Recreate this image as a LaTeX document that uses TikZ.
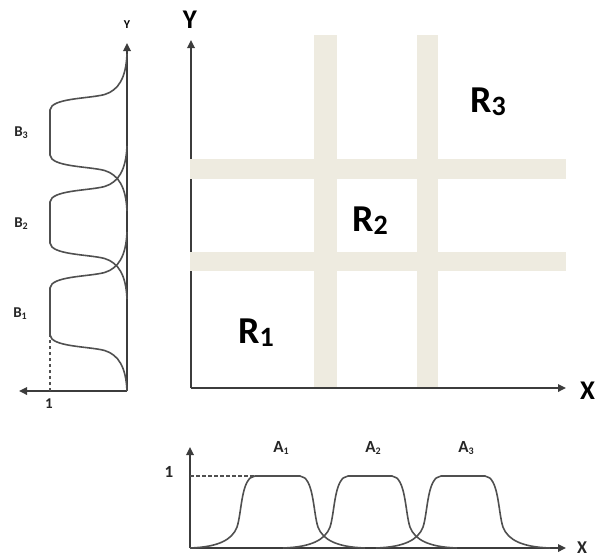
\documentclass[tikz,border=0pt]{standalone}
\usepackage{fontspec}
\setmainfont{Carlito}
\usetikzlibrary{arrows.meta}
\definecolor{bandc}{RGB}{238,235,224}
\definecolor{axisgray}{RGB}{60,60,60}
\definecolor{curvegray}{RGB}{80,80,80}
\newcommand\mfcurve[3]{%
  \draw[mfline] (#1,0) .. controls ({#1+0.43*#3},0.014) and ({#1+0.646*#3},0.11) .. ({#1+0.723*#3},0.29)
   .. controls ({#1+0.8*#3},0.5) and ({#1+0.785*#3},0.986) .. ({#1+#3},1) -- (#2,1)
   .. controls ({#2+0.215*#3},0.986) and ({#2+0.2*#3},0.5) .. ({#2+0.277*#3},0.29)
   .. controls ({#2+0.354*#3},0.11) and ({#2+0.57*#3},0.014) .. ({#2+#3},0);}
\newcommand\bigsub[2]{#1\raisebox{-0.1em}{\fontsize{28}{28}\selectfont #2}}
\newcommand\smallsub[2]{#1\raisebox{-0.12em}{\fontsize{10}{10}\selectfont #2}}
\begin{document}
\begin{tikzpicture}[x=1pt,y=-1pt,
  axisline/.style={draw=axisgray, line width=1.7pt},
  arrowaxis/.style={axisline, -{Triangle[length=8pt,width=7.5pt]}},
  mfline/.style={draw=curvegray, line width=1.6pt},
  dashline/.style={draw=curvegray, line width=1.4pt, dash pattern=on 3.5pt off 2.5pt},
  bandfill/.style={fill=bandc, draw=none},
  biglab/.style={font=\fontsize{38}{38}\selectfont\bfseries, inner sep=0pt},
  axlab/.style={font=\fontsize{27}{27}\selectfont\bfseries, inner sep=0pt},
  smalllab/.style={font=\fontsize{15}{15}\selectfont\bfseries, inner sep=0pt, text=black!85},
  alab/.style={font=\fontsize{17}{17}\selectfont\bfseries, inner sep=0pt, text=black!85},
  tinylab/.style={font=\fontsize{12}{12}\selectfont\bfseries, inner sep=0pt}]
\useasboundingbox (0,0) rectangle (597,558);

% ---------- main plot ----------
\coordinate (O) at (191,388);
\coordinate (Ytip) at (191,40);
\coordinate (Xtip) at (566,388);
\draw[arrowaxis] (O) -- (Ytip);
\fill[bandfill] (314,35) rectangle (337,388);
\fill[bandfill] (417,35) rectangle (438,388);
\fill[bandfill] (190,159) rectangle (566,179);
\fill[bandfill] (190,252) rectangle (566,271);
\draw[arrowaxis] (O) -- (Xtip);
\node[axlab, anchor=base] (Ylab) at (190,28) {Y};
\node[axlab, anchor=base west] (Xlab) at (580,399) {X};
\node[biglab, anchor=base west] (R1) at (238,343) {\bigsub{R}{1}};
\node[biglab, anchor=base west] (R2) at (352,231) {\bigsub{R}{2}};
\node[biglab, anchor=base west] (R3) at (470,112) {\bigsub{R}{3}};

% ---------- left plot (B) ----------
\coordinate (BO) at (127,391);
\coordinate (BYtip) at (127,43);
\coordinate (BXtip) at (19,391);
\coordinate (Bone) at (50,391);
\coordinate (Bonetop) at (50,335);
\draw[arrowaxis] (BO) -- (BYtip);
\draw[arrowaxis] (BO) -- (BXtip);
\draw[dashline] (Bone) -- (Bonetop);
\begin{scope}[shift={(127,391)}, x={(0pt,1pt)}, y={(-77pt,0pt)}]
  \mfcurve{0}{103}{56}
  \mfcurve{92}{189}{56}
  \mfcurve{180}{281}{56}
\end{scope}
\node[tinylab] (BYlab) at (127,25) {Y};
\node[smalllab] (B3) at (21,133) {\smallsub{B}{3}};
\node[smalllab] (B2) at (21,224) {\smallsub{B}{2}};
\node[smalllab] (B1) at (20,314) {\smallsub{B}{1}};
\node[smalllab] (Bonelab) at (49,404) {1};

% ---------- bottom plot (A) ----------
\coordinate (AO) at (190,548);
\coordinate (AYtip) at (190,447);
\coordinate (AXtip) at (566,548);
\coordinate (Aone) at (190,476);
\coordinate (Aoneend) at (254,476);
\draw[arrowaxis] (AO) -- (AYtip);
\draw[arrowaxis] (AO) -- (AXtip);
\draw[dashline] (Aone) -- (Aoneend);
\begin{scope}[shift={(190,548)}, x={(1pt,0pt)}, y={(0pt,72pt)}]
  \mfcurve{0}{110}{65}
  \mfcurve{93}{202}{65}
  \mfcurve{186}{295}{65}
\end{scope}
\node[alab] (A1) at (281,448) {\smallsub{A}{1}};
\node[alab] (A2) at (373,448) {\smallsub{A}{2}};
\node[alab] (A3) at (466,448) {\smallsub{A}{3}};
\node[alab] (Aonelab) at (169,472) {1};
\node[alab, font=\fontsize{18}{18}\selectfont\bfseries] (AXlab) at (582,548) {X};
\end{tikzpicture}
\end{document}
